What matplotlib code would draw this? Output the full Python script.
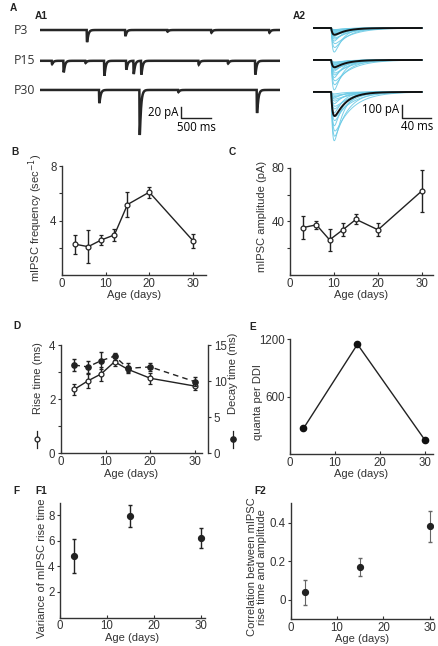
import numpy as np
import matplotlib
matplotlib.use("Agg")
import matplotlib.pyplot as plt

plt.rcParams['font.family'] = ['Liberation Sans', 'DejaVu Sans']

W, H = 438, 646

# ---- data ----
ages = [3, 6, 9, 12, 15, 20, 30]
freq = [2.26, 2.08, 2.57, 2.94, 5.17, 6.08, 2.52]
freq_err = [0.7, 1.2, 0.4, 0.45, 0.93, 0.4, 0.52]
amp = [35.4, 37.4, 26.2, 33.7, 41.5, 33.7, 62.8]
amp_err = [8.5, 3.0, 8.3, 4.8, 3.7, 4.9, 15.5]
rise = [2.37, 2.68, 2.94, 3.39, 3.11, 2.78, 2.49]
rise_err = [0.2, 0.25, 0.25, 0.15, 0.1, 0.2, 0.15]
decay = [12.26, 12.0, 12.86, 13.5, 11.8, 12.0, 9.95]
decay_err = [0.86, 0.8, 1.15, 0.5, 0.7, 0.6, 0.6]

q_ages = [3, 15, 30]
quanta = [268, 1148, 146]
rise_var = [4.79, 7.94, 6.24]
rise_var_err = [1.34, 0.87, 0.76]
corr = [0.038, 0.168, 0.38]
corr_err = [0.063, 0.047, 0.082]

# A1 example traces: event times (ms) and amplitudes (pA)
trace_names = ["P3", "P15", "P30"]
p3_times = [778, 1417, 2120, 2850, 3817]
p3_amps = [22, 11, 3, 5, 5]
p15_times = [195, 389, 753, 1067, 1433, 1556, 1683, 2639, 3128, 3583]
p15_amps = [6, 21, 4, 27, 16, 24, 25, 7, 5, 25]
p30_times = [983, 1656, 2300, 3611]
p30_amps = [24, 82, 4, 42]

# A2 overlaid mIPSCs: single event amplitudes (pA) and mean amplitude
a2_p3 = [185, 150, 120, 100, 85, 75, 65, 55, 50, 45, 40, 35, 30, 25, 20, 15, 12]
a2_p15 = [230, 190, 160, 135, 115, 100, 85, 75, 65, 55, 50, 45, 40, 35, 30, 25, 20, 15]
a2_p30 = [375, 340, 300, 260, 220, 190, 160, 130, 110, 90, 70, 55, 45, 35, 25, 15]
a2_mean = [52, 56, 185]

xt = [0, 10, 20, 30]
FS = 8.3
LAB = 8.0


def px_axes(l, t, r, b):
    return fig.add_axes([l / W, 1 - b / H, (r - l) / W, (b - t) / H])


def style(ax):
    for s in ["top", "right"]:
        ax.spines[s].set_visible(False)
    for s in ["left", "bottom"]:
        ax.spines[s].set_linewidth(1.0)
        ax.spines[s].set_color("#333333")
    ax.tick_params(axis="y", direction="out", length=2.5, width=0.8,
                   labelsize=FS, pad=1.5, colors="#333333")
    ax.tick_params(axis="x", direction="in", length=2.5, width=0.8,
                   labelsize=FS, pad=2, colors="#333333")
    ax.set_xticks(xt)
    ax.set_xlabel("Age (days)", fontsize=LAB, labelpad=0.5, color="#333333")


def psc(t, onset, amp_, tr, td):
    s = np.clip(t - onset, 0, None)
    k = np.exp(-s / td) - np.exp(-s / tr)
    tp = np.log(td / tr) * tr * td / (td - tr)
    kmax = np.exp(-tp / td) - np.exp(-tp / tr)
    return -amp_ * k / kmax


fig = plt.figure(figsize=(W / 100, H / 100), dpi=100)

# ---------- A1 ----------
axA1 = px_axes(40, 20, 280, 140)
axA1.axis("off")
t = np.arange(0, 4000, 1.0)
offsets = [0, -56, -109]
events = [(p3_times, p3_amps), (p15_times, p15_amps), (p30_times, p30_amps)]
for off, (tt, aa) in zip(offsets, events):
    y = np.full_like(t, float(off))
    for ti, ai in zip(tt, aa):
        y += psc(t, ti, ai, 3, 20)
    axA1.plot(t, y, color="#262626", lw=1.8, solid_joinstyle="miter")
axA1.set_xlim(0, 4000)
axA1.set_ylim(-200, 18.2)
axA1.plot([2350, 2350, 2850], [-140, -160, -160], color="#222222", lw=1.0,
          clip_on=False)
axA1.text(2310, -150, "20 pA", ha="right", va="center", fontsize=8.3,
          family=["Open Sans", "DejaVu Sans"])
axA1.text(2600, -165, "500 ms", ha="center", va="top", fontsize=8.3,
          family=["Open Sans", "DejaVu Sans"])
for name, ypx in zip(trace_names, [30, 61, 90]):
    fig.text(14 / W, 1 - ypx / H, name, ha="left", va="center", fontsize=8.8,
             family=["Open Sans", "DejaVu Sans"], color="#333333")

# ---------- A2 ----------
axA2 = px_axes(313, 15, 435, 145)
axA2.axis("off")
t2 = np.arange(0, 150, 0.25)
a2_offsets = [0, -246, -492]
for off, amps_, m in zip(a2_offsets, [a2_p3, a2_p15, a2_p30], a2_mean):
    for i, a in enumerate(amps_):
        td = 12 + 6 * (i % 3)
        axA2.plot(t2, off + psc(t2, 25, a, 2.0, td), color="#6ccbe6",
                  lw=0.7, alpha=0.9)
    axA2.plot(t2, off + psc(t2, 25, m, 2.0, 16), color="#111111", lw=1.4)
axA2.set_xlim(0, 168)
axA2.set_ylim(-900, 100)
axA2.plot([123, 123, 163], [-592, -692, -692], color="#222222", lw=1.0,
          clip_on=False)
axA2.text(119, -630, "100 pA", ha="right", va="center", fontsize=8.3,
          family=["Open Sans", "DejaVu Sans"])
axA2.text(143, -705, "40 ms", ha="center", va="top", fontsize=8.3,
          family=["Open Sans", "DejaVu Sans"])

# ---------- B ----------
axB = px_axes(62, 166, 206, 275)
style(axB)
axB.errorbar(ages, freq, yerr=freq_err, color="#222222", lw=1.0, capsize=1.3,
             elinewidth=1.0, marker="o", ms=3.5, mfc="white", mec="#222222",
             mew=0.9)
axB.set_xlim(0, 33)
axB.set_ylim(0, 8)
axB.set_yticks([2, 4, 6, 8], ["", "4", "", "8"])
axB.set_ylabel("mIPSC frequency (sec$^{-1}$)", fontsize=LAB, color="#333333")
axB.yaxis.set_label_coords(-0.115, 0.52)

# ---------- C ----------
axC = px_axes(290, 167.7, 433, 275)
style(axC)
axC.errorbar(ages, amp, yerr=amp_err, color="#222222", lw=1.0, capsize=1.3,
             elinewidth=1.0, marker="o", ms=3.5, mfc="white", mec="#222222",
             mew=0.9)
axC.set_xlim(0, 32.5)
axC.set_ylim(0, 80)
axC.set_yticks([20, 40, 60, 80], ["", "40", "", "80"])
axC.set_ylabel("mIPSC amplitude (pA)", fontsize=LAB, color="#333333")
axC.yaxis.set_label_coords(-0.16, 0.55)

# ---------- D ----------
axD = px_axes(61, 345.3, 202, 453.3)
style(axD)
axR = axD.twinx()
for s in ["top", "left", "bottom"]:
    axR.spines[s].set_visible(False)
axR.spines["right"].set_position(("outward", 4.5))
axR.spines["right"].set_linewidth(1.0)
axR.spines["right"].set_color("#333333")
axR.tick_params(axis="y", direction="out", length=2.5, width=0.8,
                labelsize=FS, pad=1.5, colors="#333333")
axD.errorbar(ages, rise, yerr=rise_err, color="#222222", lw=1.0, capsize=1.3,
             elinewidth=1.0, marker="o", ms=3.5, mfc="white", mec="#222222",
             mew=0.9, zorder=3)
axR.errorbar(ages, decay, yerr=decay_err, color="#222222", lw=1.0,
             capsize=1.3, elinewidth=1.0, marker="o", ms=3.8, mfc="#222222",
             mec="#222222", ls=(0, (4, 3)))
axD.set_xlim(0, 31.6)
axD.set_ylim(0, 4)
axD.set_yticks([0, 1, 2, 3, 4], ["0", "", "2", "", "4"])
axR.set_ylim(0, 15)
axR.set_yticks([0, 5, 10, 15])
axD.text(-0.165, 0.70, "Rise time (ms)", rotation=90, ha="center",
         va="center", transform=axD.transAxes, fontsize=LAB, color="#333333")
axD.text(1.22, 0.74, "Decay time (ms)", rotation=90, ha="center",
         va="center", transform=axD.transAxes, fontsize=LAB, color="#333333")
# symbol keys next to the axis labels
axD.plot([-0.17, -0.17], [0.05, 0.21], color="#222222", lw=0.9,
         transform=axD.transAxes, clip_on=False)
axD.plot([-0.17], [0.13], marker="o", ms=3.5, mfc="white", mec="#222222",
         mew=0.9, transform=axD.transAxes, clip_on=False)
axD.plot([1.22, 1.22], [0.05, 0.21], color="#222222", lw=0.9,
         transform=axD.transAxes, clip_on=False)
axD.plot([1.22], [0.13], marker="o", ms=3.8, mfc="#222222", mec="#222222",
         transform=axD.transAxes, clip_on=False)

# ---------- E ----------
axE = px_axes(290, 339.3, 433, 454)
style(axE)
axE.plot(q_ages, quanta, color="#222222", lw=1.0, marker="o", ms=4.5,
         mfc="#111111", mec="#111111")
axE.set_xlim(0, 31.8)
axE.set_ylim(0, 1200)
axE.set_yticks([600, 1200])
axE.set_ylabel("quanta per DDI", fontsize=LAB, color="#333333")
axE.yaxis.set_label_coords(-0.19, 0.45)

# ---------- F1 ----------
axF1 = px_axes(60, 502.7, 205, 617.5)
style(axF1)
axF1.errorbar(q_ages, rise_var, yerr=rise_var_err, color="#222222", ls="none",
              capsize=1.3, elinewidth=1.0, marker="o", ms=4.2)
axF1.set_xlim(0, 30.9)
axF1.set_ylim(0, 9)
axF1.set_yticks([2, 4, 6, 8])
axF1.set_ylabel("Variance of mIPSC rise time", fontsize=LAB, color="#333333")
axF1.yaxis.set_label_coords(-0.09, 0.43)

# ---------- F2 ----------
axF2 = px_axes(290.7, 503.3, 433, 619)
style(axF2)
axF2.tick_params(axis="y", pad=1.0)
axF2.errorbar(q_ages, corr, yerr=corr_err, color="#222222", ecolor="#666666",
              ls="none", capsize=1.3, elinewidth=0.8, marker="o", ms=4.2)
axF2.set_xlim(0, 30.7)
axF2.set_ylim(-0.1, 0.5)
axF2.set_yticks([0, 0.2, 0.4], ["0", "0.2", "0.4"])
axF2.set_ylabel("Correlation between mIPSC\nrise time and amplitude",
                fontsize=LAB, color="#333333", linespacing=0.95)
axF2.yaxis.set_label_coords(-0.168, 0.45)

# ---------- panel letters ----------
letters = [("A", 10, 8), ("A1", 35, 16), ("A2", 293, 16), ("B", 11, 152),
           ("C", 229, 152), ("D", 13, 326), ("E", 249, 327), ("F", 13, 491),
           ("F1", 35, 491), ("F2", 254, 491)]
for s, x, y in letters:
    fig.text(x / W, 1 - y / H, s, ha="left", va="center", fontsize=7.3,
             fontweight="bold", color="#222222")

fig.savefig("out.png", dpi=100)
